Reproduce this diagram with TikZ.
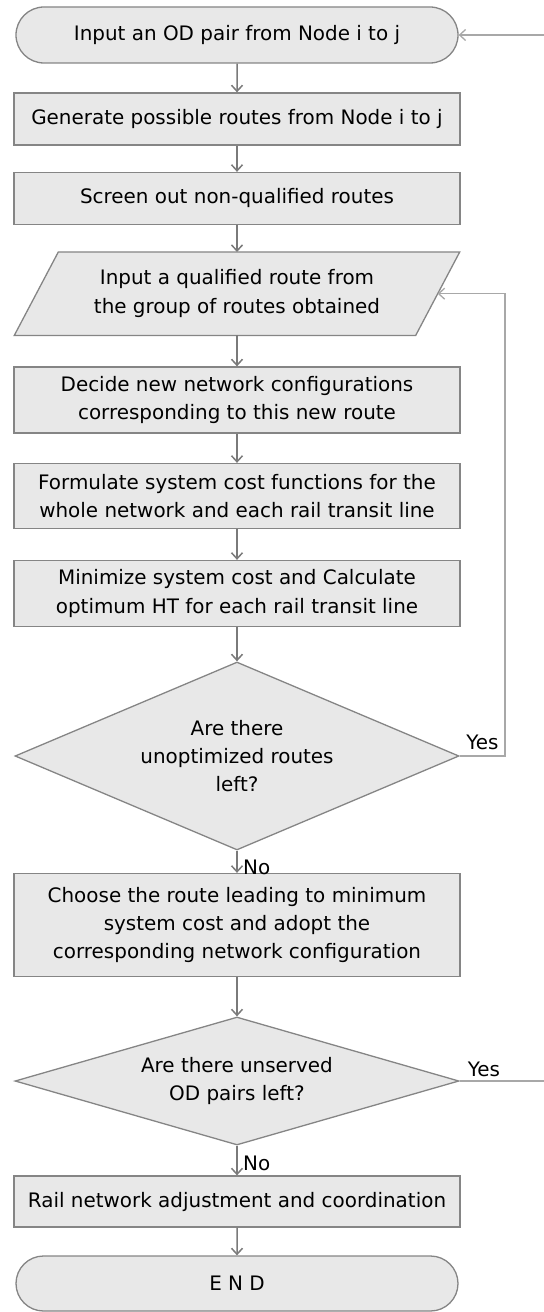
\documentclass[tikz,border=0pt]{standalone}
\usepackage{fontspec}
\setmainfont{DejaVu Sans}
\usetikzlibrary{shapes.geometric,shapes.misc,arrows.meta,backgrounds,calc}
\definecolor{boxfill}{HTML}{E8E8E8}
\definecolor{boxline}{HTML}{858585}
\definecolor{arrowcol}{HTML}{7A7A7A}
\definecolor{loopcol}{HTML}{A8A8A8}
\begin{document}
\begin{tikzpicture}[x=1bp,y=-1bp,
  >={Straight Barb[length=6bp,width=11bp]},
  every node/.style={font=\fontsize{20}{28.5}\selectfont, text=black},
  base/.style={draw=boxline, fill=boxfill, line width=1.3bp, inner sep=0pt, align=center},
  procbox/.style={base, rectangle, minimum width=446bp},
  term/.style={base, rounded rectangle, minimum width=442bp, minimum height=56bp},
  decision/.style={base, diamond, minimum width=444bp},
  flow/.style={draw=arrowcol, line width=1.5bp, ->},
  loopline/.style={draw=loopcol, line width=1.3bp},
  lbl/.style={inner sep=0pt}
]
\useasboundingbox (0,0) rectangle (544,1312);

% nodes
\node[term] (start) at (237,35) {Input an OD pair from Node i to j};
\node[procbox, minimum height=52bp] (gen) at (237,119) {Generate possible routes from Node i to j};
\node[procbox, minimum height=52bp] (screen) at (237,198.5) {Screen out non-qualified routes};
\node[align=center, inner sep=0pt, minimum width=401bp, minimum height=83bp] (par) at (237,293.7)
  {Input a qualified route from\\the group of routes obtained};
\begin{scope}[on background layer]
  \draw[base] ($(par.north west)+(22,0)$) -- ($(par.north east)+(22,0)$)
    -- ($(par.south east)+(-22,0)$) -- ($(par.south west)+(-22,0)$) -- cycle;
\end{scope}
\node[procbox, minimum height=66bp] (decide) at (237,400)
  {Decide new network configurations\\corresponding to this new route};
\node[procbox, minimum height=65bp] (formulate) at (237,496)
  {Formulate system cost functions for the\\whole network and each rail transit line};
\node[procbox, minimum height=66bp] (minimize) at (237,593.5)
  {Minimize system cost and Calculate\\optimum HT for each rail transit line};
\node[decision, minimum height=188bp, aspect=2.36] (d1) at (237,756)
  {Are there\\unoptimized routes\\left?};
\node[procbox, minimum height=103bp] (choose) at (237,925)
  {Choose the route leading to minimum\\system cost and adopt the\\corresponding network configuration};
\node[decision, minimum height=128bp, aspect=3.47] (d2) at (237,1081)
  {Are there unserved\\OD pairs left?};
\node[procbox, minimum height=51bp] (rail) at (237,1201.5)
  {Rail network adjustment and coordination};
\node[term, minimum height=55bp] (end) at (237,1283.5) {E N D};

% labels
\node[lbl, anchor=west] (no1) at (243,867) {No};
\node[lbl, anchor=west] (no2) at (243,1163) {No};
\node[lbl] (yes1) at (482.5,742) {Yes};
\node[lbl] (yes2) at (484,1069) {Yes};

% main flow
\draw[flow] (start) -- (gen);
\draw[flow] (gen) -- (screen);
\draw[flow] (screen) -- (par);
\draw[flow] (par) -- (decide);
\draw[flow] (decide) -- (formulate);
\draw[flow] (formulate) -- (minimize);
\draw[flow] (minimize) -- (d1);
\draw[flow] (d1) -- (choose);
\draw[flow] (choose) -- (d2);
\draw[flow] (d2) -- (rail);
\draw[flow] (rail) -- (end);

% loops
\coordinate (lp1) at (505,756);
\coordinate (lp2) at (505,293.7);
\draw[loopline, ->] (d1.east) -- (lp1) -- (lp2) -- (par.east);
\coordinate (out2) at (544,1081);
\draw[loopline] (d2.east) -- (out2);
\coordinate (in0) at (544,35);
\draw[loopline, ->] (in0) -- (start.east);
\end{tikzpicture}
\end{document}
